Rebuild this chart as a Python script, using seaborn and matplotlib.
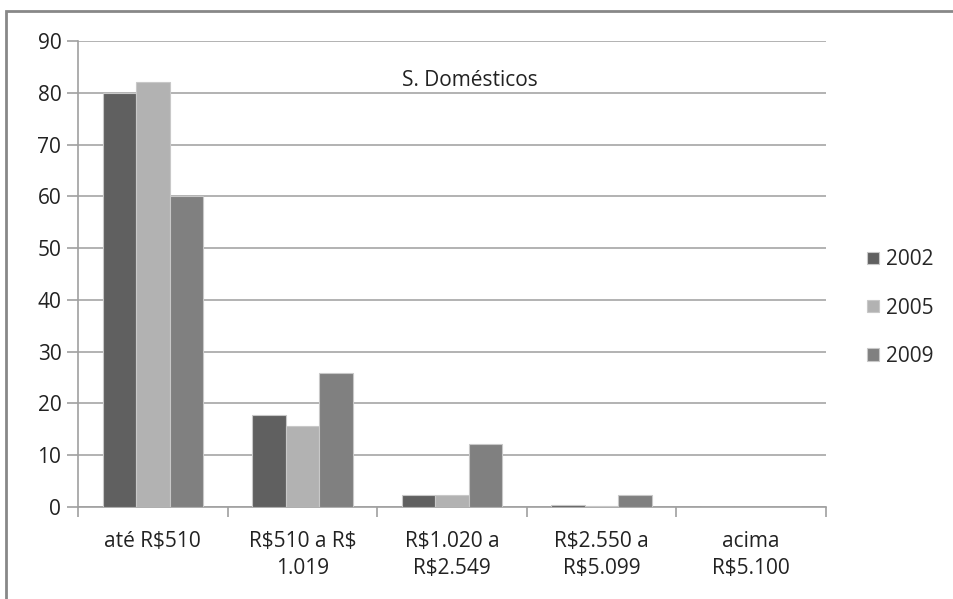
import seaborn as sns
import pandas as pd
import matplotlib.pyplot as plt
from matplotlib.patches import Rectangle

categories = ["até R\\$510", "R\\$510 a R\\$\n1.019", "R\\$1.020 a\nR\\$2.549", "R\\$2.550 a\nR\\$5.099", "acima\nR\\$5.100"]
years = ["2002", "2005", "2009"]
v2002 = [80, 17.7, 2.3, 0.4, 0]
v2005 = [82, 15.7, 2.3, 0.15, 0]
v2009 = [60, 25.9, 12.2, 2.3, 0]
colors = ["#606060", "#b2b2b2", "#808080"]

rows = []
for year, vals in zip(years, [v2002, v2005, v2009]):
    for cat, v in zip(categories, vals):
        rows.append({"cat": cat, "year": year, "value": v})
df = pd.DataFrame(rows)

sns.set_style("white")
plt.rcParams["font.family"] = ["Open Sans", "DejaVu Sans"]

fig = plt.figure(figsize=(9.54, 5.99), dpi=100)
ax = fig.add_axes([78 / 954, 1 - 507 / 599, (826 - 78) / 954, (507 - 41) / 599])

sns.barplot(data=df, x="cat", y="value", hue="year", palette=colors,
            width=0.67, saturation=1, edgecolor="#c8c8c8", linewidth=0.8, ax=ax, zorder=3)

ax.set_ylim(0, 90)
ax.set_xlim(-0.5, 4.5)
ax.set_yticks(range(0, 91, 10))
ax.yaxis.grid(True, color="#a6a6a6", linewidth=1.2, zorder=0)
ax.set_axisbelow(True)
ax.set_xlabel("")
ax.set_ylabel("")

for s in ["top", "right"]:
    ax.spines[s].set_visible(False)
for s in ["left", "bottom"]:
    ax.spines[s].set_color("#a0a0a0")
    ax.spines[s].set_linewidth(1.2)

ax.tick_params(axis="y", length=8, width=1.2, color="#a0a0a0", left=True, labelsize=15, pad=4, labelcolor="#222222")
ax.set_xticks(range(5))
ax.set_xticklabels(categories, linespacing=1.4)
ax.tick_params(axis="x", which="major", length=0, labelsize=15, pad=17, labelcolor="#222222")
ax.set_xticks([i + 0.5 for i in range(-1, 5)], minor=True)
ax.tick_params(axis="x", which="minor", length=7, width=1.2, color="#a0a0a0", bottom=True)

ax.text(2.12, 82.4, "S. Domésticos", ha="center", va="center", fontsize=15, color="#222222")

leg = ax.legend(loc="center left", bbox_to_anchor=(1.03, 0.427), frameon=False,
                fontsize=15, handlelength=0.55, handleheight=0.55, handletextpad=0.35,
                labelspacing=1.3)

fig.patches.append(Rectangle((6 / 954, -0.1), 1.2, 1.1 - 11 / 599, transform=fig.transFigure,
                             fill=False, edgecolor="#888888", linewidth=2))

fig.savefig("out.png", dpi=100)
